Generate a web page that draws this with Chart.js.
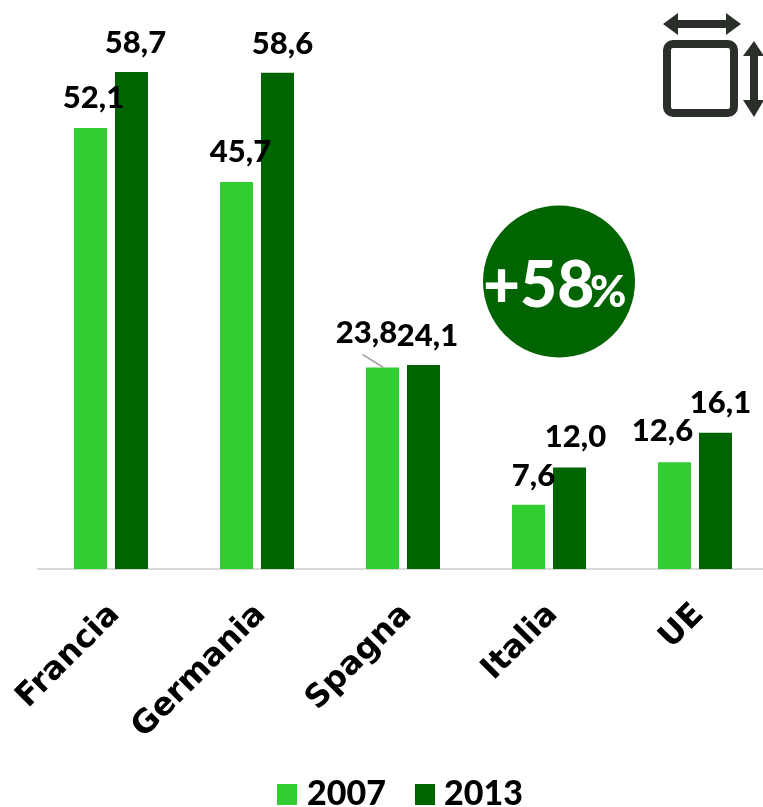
<!DOCTYPE html>
<html><head><meta charset="utf-8">
<style>html,body{margin:0;padding:0;background:#fff;overflow:hidden;width:763px;height:807px}canvas{display:block}</style>
<script src="https://cdn.jsdelivr.net/npm/chart.js@4"></script>
</head><body><canvas id="c" width="770" height="807"></canvas>
<script>
const categories = ["Francia","Germania","Spagna","Italia","UE"];
const series2007 = [52.1,45.7,23.8,7.6,12.6];
const series2013 = [58.7,58.6,24.1,12.0,16.1];
const seriesNames = ["2007","2013"];
const badgeText = "+58";
const badgeUnit = "%";
const labelShift = [
  [[3,-30],[4,-30],[-16,-34],[5,-29],[-12,-31]],
  [[4,-29],[5,-29],[4,-29],[6,-30],[5,-30]]
];
const legendBoxX = [277,415];
const legendTextX = [307,444];
const FONT = "Lato, sans-serif";
const valueLabels = {
  id:"valueLabels",
  afterDatasetsDraw(chart){
    const ctx=chart.ctx;
    ctx.save();
    ctx.font="900 31px "+FONT;
    ctx.fillStyle="#000";
    ctx.textAlign="center";ctx.textBaseline="middle";
    chart.data.datasets.forEach((ds,i)=>{
      chart.getDatasetMeta(i).data.forEach((el,j)=>{
        const s=labelShift[i][j];
        ctx.fillText(ds.data[j].toFixed(1).replace(".",","),el.x+s[0],el.y+s[1]);
      });
    });
    const el=chart.getDatasetMeta(0).data[2];
    ctx.strokeStyle="#a6a6a6";ctx.lineWidth=1.5;
    ctx.beginPath();ctx.moveTo(el.x-20,el.y-13);ctx.lineTo(el.x+1,el.y);ctx.stroke();
    ctx.restore();
  }
};
const decor = {
  id:"decor",
  afterDraw(chart){
    const ctx=chart.ctx;
    ctx.save();
    ctx.fillStyle="#006400";
    ctx.beginPath();ctx.arc(559,281.5,76,0,Math.PI*2);ctx.fill();
    ctx.fillStyle="#fff";ctx.textBaseline="alphabetic";ctx.textAlign="left";
    ctx.font="900 64px "+FONT;
    ctx.fillText(badgeText,483,307);
    ctx.font="900 44px "+FONT;
    ctx.fillText(badgeUnit,590,307);
    const col="#2a3029";
    ctx.strokeStyle=col;ctx.fillStyle=col;ctx.lineWidth=8;
    ctx.beginPath();ctx.roundRect(667,44,67,69,6);ctx.stroke();
    ctx.beginPath();
    ctx.moveTo(663,24);ctx.lineTo(678,13);ctx.lineTo(678,20);ctx.lineTo(726,20);ctx.lineTo(726,13);ctx.lineTo(741,24);
    ctx.lineTo(726,35);ctx.lineTo(726,28);ctx.lineTo(678,28);ctx.lineTo(678,35);ctx.closePath();ctx.fill();
    ctx.beginPath();
    ctx.moveTo(754,41);ctx.lineTo(764,56);ctx.lineTo(758,56);ctx.lineTo(758,100);ctx.lineTo(764,100);ctx.lineTo(754,117);
    ctx.lineTo(743,100);ctx.lineTo(750,100);ctx.lineTo(750,56);ctx.lineTo(743,56);ctx.closePath();ctx.fill();
    chart.data.datasets.forEach((ds,i)=>{
      ctx.fillStyle=ds.backgroundColor;
      ctx.fillRect(legendBoxX[i],784,20,21);
      ctx.fillStyle="#000";
      ctx.font="900 34px "+FONT;
      ctx.fillText(ds.label,legendTextX[i],805);
    });
    ctx.restore();
  }
};
new Chart(document.getElementById("c"),{
  type:"bar",
  data:{labels:categories,datasets:[
    {label:seriesNames[0],data:series2007,backgroundColor:"#32cd32",borderWidth:0},
    {label:seriesNames[1],data:series2013,backgroundColor:"#006400",borderWidth:0}
  ]},
  options:{
    responsive:false,animation:false,
    layout:{padding:{left:38,right:2,top:61,bottom:0}},
    categoryPercentage:0.5616,barPercentage:0.805,
    scales:{
      x:{
        grid:{display:false,drawTicks:false},
        border:{display:true,color:"#d9d9d9",width:2},
        ticks:{color:"#000",font:{family:"'DejaVu Sans', sans-serif",size:32,weight:"700"},minRotation:45,maxRotation:45,padding:27,labelOffset:4,autoSkip:false},
        afterFit(s){s.height=238;s.paddingLeft=0;s.paddingRight=0;}
      },
      y:{display:false,min:0,max:60}
    },
    plugins:{tooltip:{enabled:false},legend:{display:false}}
  },
  plugins:[valueLabels,decor]
});
</script></body></html>
